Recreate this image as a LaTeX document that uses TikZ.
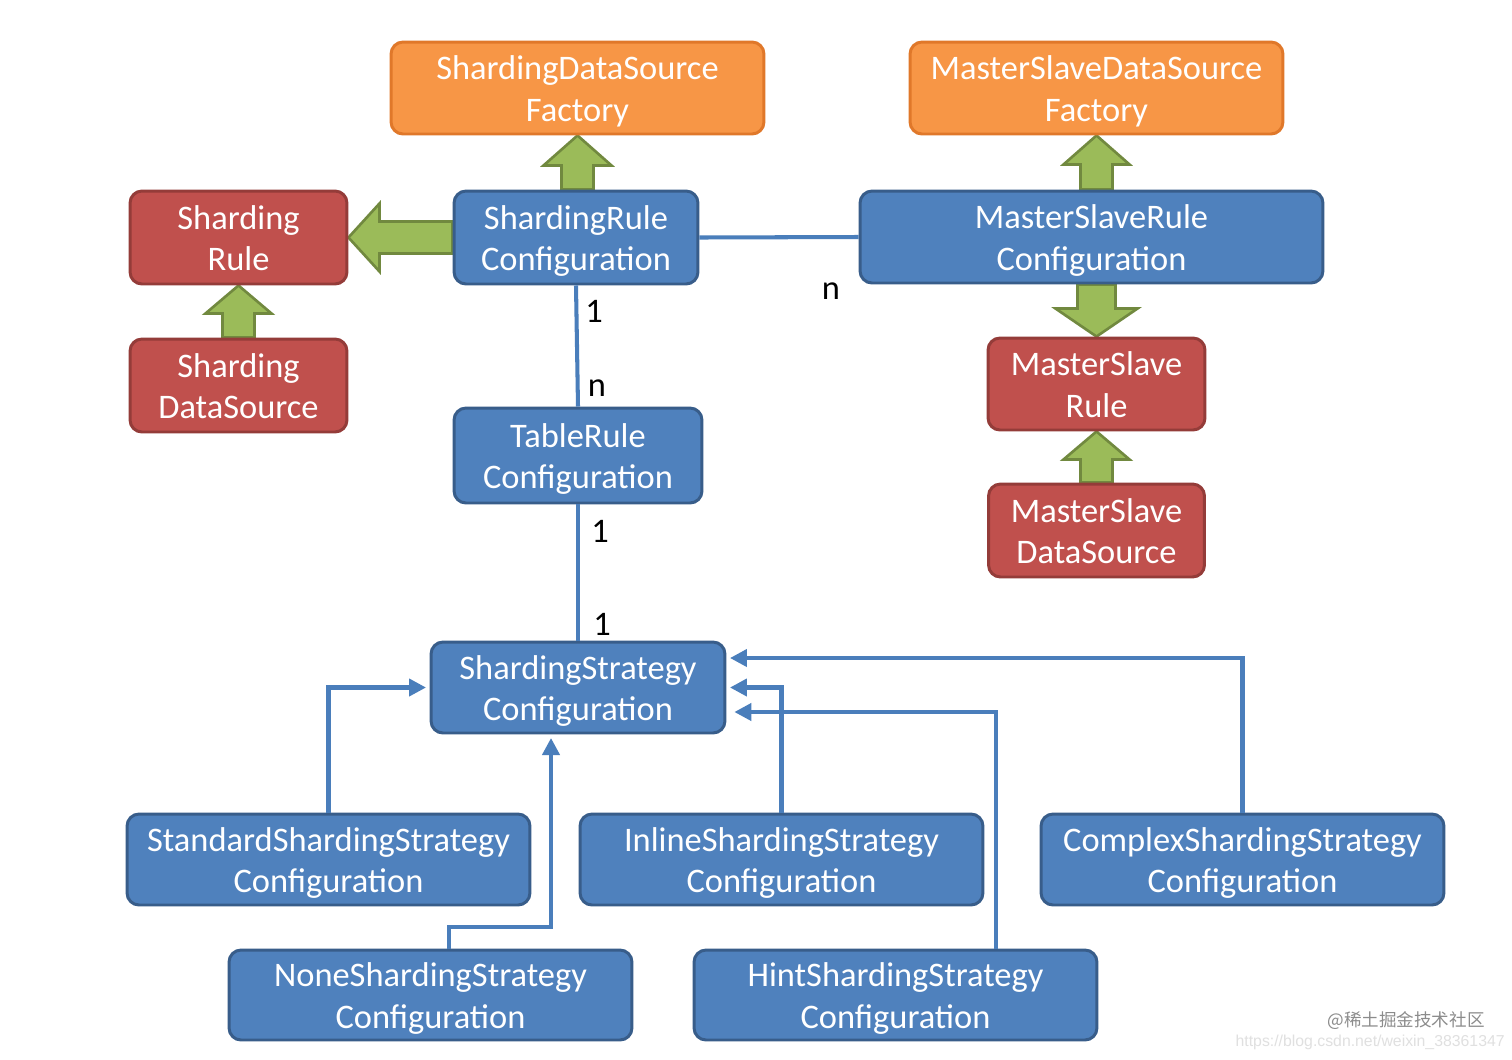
\documentclass[tikz,border=0pt]{standalone}
\usepackage{fontspec}
\setmainfont{Carlito}
\newfontfamily\cjk{Noto Sans CJK SC}
\newfontfamily\arialf{Liberation Sans}
\usetikzlibrary{arrows.meta,calc,backgrounds}
\definecolor{bfill}{HTML}{4F81BD}
\definecolor{bdraw}{HTML}{385D8A}
\definecolor{rfill}{HTML}{C0504D}
\definecolor{rdraw}{HTML}{943C39}
\definecolor{ofill}{HTML}{F79646}
\definecolor{odraw}{HTML}{E0782A}
\definecolor{gfill}{HTML}{9BBB59}
\definecolor{gdraw}{HTML}{71893F}
\definecolor{lineblue}{HTML}{4A7EBB}
\newcommand{\twoline}[2]{\raisebox{0pt}[38pt][0pt]{\begin{tabular}[b]{@{}c@{}}#1\\#2\end{tabular}}}
\tikzset{
  box/.style={rounded corners=0.24cm, line width=1.7pt, inner sep=0pt,
    text=white, font=\fontsize{19.6}{23.8}\selectfont},
  bluebox/.style={box, fill=bfill, draw=bdraw},
  redbox/.style={box, fill=rfill, draw=rdraw},
  orangebox/.style={box, fill=ofill, draw=odraw},
  conn/.style={draw=lineblue, line width=2.3pt},
  arr/.style={conn, -{Triangle[length=0.34cm,width=0.34cm]}, shorten >=2pt},
  lbl/.style={font=\fontsize{19.6}{23.8}\selectfont, text=black, inner sep=0pt},
  garrow/.style={fill=gfill, draw=gdraw, line width=1.5pt, line join=miter}
}
% block arrow from #1 to #2, shaft half width #3, head half width #4, head length #5
\newcommand{\blockarrow}[5]{%
  \coordinate (ba-c) at ($(#2)!#5!(#1)$);
  \draw[garrow] ($(#1)!#3!90:(#2)$) -- ($(ba-c)!#3!-90:(#1)$) -- ($(ba-c)!#4!-90:(#1)$)
    -- (#2) -- ($(ba-c)!#4!90:(#1)$) -- ($(ba-c)!#3!90:(#1)$) -- ($(#1)!#3!-90:(#2)$) -- cycle;
}
\begin{document}
\begin{tikzpicture}[x=0.02cm,y=-0.02cm]
\useasboundingbox (0,0) rectangle (1512,1059);

\node[orangebox, minimum width=7.46cm, minimum height=1.84cm] (sdsf) at (577.5,88) {\twoline{ShardingDataSource}{Factory}};
\node[orangebox, minimum width=7.46cm, minimum height=1.84cm] (msdsf) at (1096.5,88) {\twoline{MasterSlaveDataSource}{Factory}};
\node[redbox, minimum width=4.34cm, minimum height=1.86cm] (srule) at (238.5,237.5) {\twoline{Sharding}{Rule}};
\node[bluebox, minimum width=4.88cm, minimum height=1.86cm] (srcfg) at (576,237.5) {\twoline{ShardingRule}{Configuration}};
\node[bluebox, minimum width=9.26cm, minimum height=1.84cm] (msrcfg) at (1091.5,237) {\twoline{MasterSlaveRule}{Configuration}};
\node[redbox, minimum width=4.34cm, minimum height=1.86cm] (sds) at (238.5,385.5) {\twoline{Sharding}{DataSource}};
\node[redbox, minimum width=4.34cm, minimum height=1.84cm] (msrule) at (1096.5,384) {\twoline{MasterSlave}{Rule}};
\node[bluebox, minimum width=4.96cm, minimum height=1.9cm] (trcfg) at (578,455.5) {\twoline{TableRule}{Configuration}};
\node[redbox, minimum width=4.32cm, minimum height=1.86cm] (msds) at (1096.5,530.5) {\twoline{MasterSlave}{DataSource}};
\node[bluebox, minimum width=5.88cm, minimum height=1.82cm] (sscfg) at (578,687.5) {\twoline{ShardingStrategy}{Configuration}};
\node[bluebox, minimum width=8.06cm, minimum height=1.82cm] (std) at (328.5,859.5) {\twoline{StandardShardingStrategy}{Configuration}};
\node[bluebox, minimum width=8.06cm, minimum height=1.82cm] (inl) at (781.5,859.5) {\twoline{InlineShardingStrategy}{Configuration}};
\node[bluebox, minimum width=8.06cm, minimum height=1.82cm] (cpx) at (1242.5,859.5) {\twoline{ComplexShardingStrategy}{Configuration}};
\node[bluebox, minimum width=8.06cm, minimum height=1.8cm] (none) at (430.5,995) {\twoline{NoneShardingStrategy}{Configuration}};
\node[bluebox, minimum width=8.06cm, minimum height=1.8cm] (hint) at (895.5,995) {\twoline{HintShardingStrategy}{Configuration}};

\coordinate (srtop) at (srcfg.north -| sdsf.south);
\coordinate (mstop) at (msrcfg.north -| msdsf.south);
\coordinate (msbot) at (msrcfg.south -| msrule.north);

\begin{scope}[on background layer]
  \fill[white] (0,0) rectangle (1512,1059);
  \blockarrow{srtop}{sdsf.south}{0.32cm}{0.68cm}{0.6cm}
  \blockarrow{srcfg.west}{srule.east}{0.32cm}{0.68cm}{0.62cm}
  \blockarrow{sds.north}{srule.south}{0.32cm}{0.66cm}{0.56cm}
  \blockarrow{mstop}{msdsf.south}{0.32cm}{0.66cm}{0.58cm}
  \blockarrow{msbot}{msrule.north}{0.38cm}{0.82cm}{0.56cm}
  \blockarrow{msds.north}{msrule.south}{0.32cm}{0.66cm}{0.56cm}
\end{scope}

\draw[conn] (srcfg.east) -- (msrcfg.west);
\draw[conn] (srcfg.south) -- (trcfg.north);
\draw[conn] (trcfg.south) -- (sscfg.north);
\draw[arr] (std.north) |- (sscfg.west);
\draw[arr] ([xshift=0.37cm]none.north) -- ++(0,-22) -| ([xshift=-0.54cm]sscfg.south);
\draw[arr] (inl.north) |- (sscfg.east);
\draw[arr, shorten >=4.5pt] ([xshift=2.01cm]hint.north) |- ([yshift=-0.49cm]sscfg.east);
\draw[arr] (cpx.north) |- ([yshift=0.59cm]sscfg.east);

\node[lbl] (l1) at (831,291) {n};
\node[lbl] (l2) at (594,311) {1};
\node[lbl] (l3) at (597,388) {n};
\node[lbl] (l4) at (600,531) {1};
\node[lbl] (l5) at (602,624) {1};

\node[anchor=east, inner sep=0pt, text=black!45, font=\cjk\fontsize{10}{12}\selectfont] (wm1) at (1485,1021) {@稀土掘金技术社区};
\node[anchor=east, inner sep=0pt, text=black!12, font=\arialf\fontsize{9}{11}\selectfont] (wm2) at (1505,1042) {https://blog.csdn.net/weixin\_38361347};
\end{tikzpicture}
\end{document}
